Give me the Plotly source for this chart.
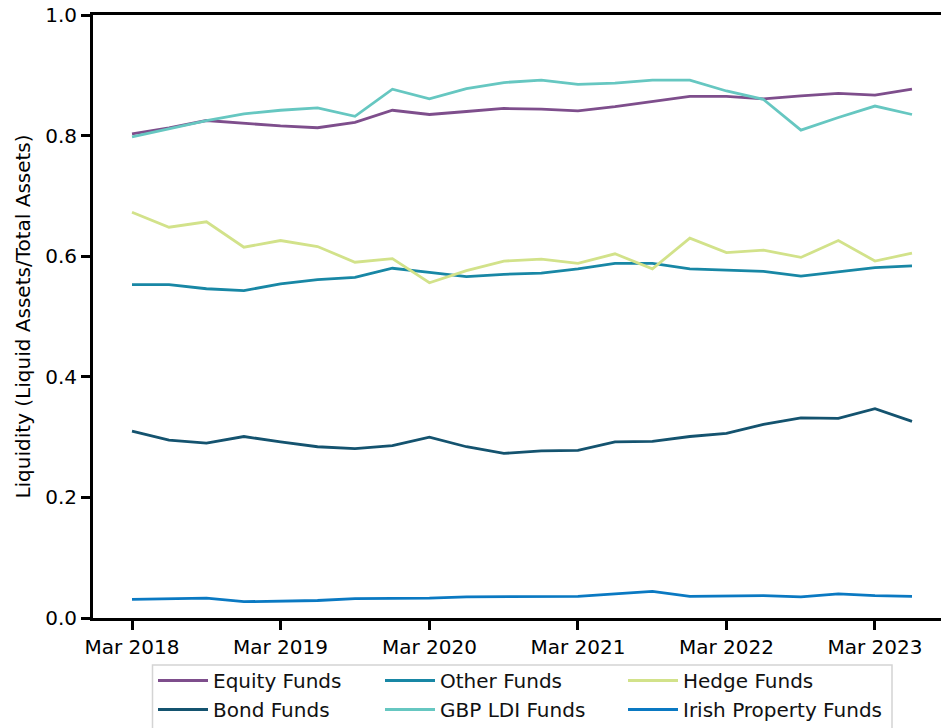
import pandas as pd
import plotly.graph_objects as go

# Quarter-end dates, Mar 2018 to Jun 2023
quarters = pd.date_range("2018-03-31", "2023-06-30", freq="QE")

equity_funds = [0.803, 0.813, 0.825, 0.820, 0.816, 0.813, 0.822, 0.842, 0.835, 0.840, 0.845,
                0.844, 0.841, 0.848, 0.857, 0.865, 0.865, 0.861, 0.866, 0.870, 0.867, 0.877]
other_funds = [0.553, 0.553, 0.546, 0.543, 0.554, 0.561, 0.565, 0.580, 0.573, 0.566, 0.570,
               0.572, 0.579, 0.588, 0.588, 0.579, 0.577, 0.575, 0.567, 0.574, 0.581, 0.584]
hedge_funds = [0.673, 0.648, 0.657, 0.615, 0.626, 0.616, 0.590, 0.596, 0.556, 0.576, 0.592,
               0.595, 0.588, 0.604, 0.579, 0.630, 0.606, 0.610, 0.598, 0.626, 0.592, 0.605]
bond_funds = [0.310, 0.295, 0.290, 0.301, 0.292, 0.284, 0.281, 0.286, 0.300, 0.284, 0.273,
              0.277, 0.278, 0.292, 0.293, 0.301, 0.306, 0.321, 0.332, 0.331, 0.347, 0.326]
gbp_ldi_funds = [0.798, 0.811, 0.825, 0.836, 0.842, 0.846, 0.832, 0.877, 0.861, 0.878, 0.888,
                 0.892, 0.885, 0.887, 0.892, 0.892, 0.874, 0.860, 0.809, 0.830, 0.849, 0.835]
irish_property_funds = [0.031, 0.032, 0.033, 0.027, 0.028, 0.029, 0.032, 0.032, 0.033, 0.035, 0.035,
                        0.036, 0.036, 0.040, 0.044, 0.036, 0.037, 0.037, 0.035, 0.040, 0.037, 0.036]

tick_dates = pd.to_datetime(["2018-03-31", "2019-03-31", "2020-03-31",
                             "2021-03-31", "2022-03-31", "2023-03-31"])
tick_labels = ["Mar 2018", "Mar 2019", "Mar 2020", "Mar 2021", "Mar 2022", "Mar 2023"]

# (name, values, colour, legend column)
series = [
    ("Equity Funds", equity_funds, "#7e4e8c", "legend"),
    ("Bond Funds", bond_funds, "#14536f", "legend"),
    ("Other Funds", other_funds, "#1887a5", "legend2"),
    ("GBP LDI Funds", gbp_ldi_funds, "#66c7c1", "legend2"),
    ("Hedge Funds", hedge_funds, "#d2e28a", "legend3"),
    ("Irish Property Funds", irish_property_funds, "#0a79c2", "legend3"),
]

FONT = "DejaVu Sans"
FS = 20
fig = go.Figure()
for name, vals, col, leg in series:
    fig.add_trace(go.Scatter(x=quarters, y=vals, mode="lines", name=name,
                             line=dict(color=col, width=2.8), legend=leg))

# x range: 5% padding on the left, axis continues past the right edge
span = quarters[-1] - quarters[0]
x_left = quarters[0] - 0.05 * span
x_right = x_left + span * (848 / 780)

W, H = 941, 728
L, R, T, B = 93, 0, 15, 110
fig.update_layout(
    width=W, height=H,
    margin=dict(l=L, r=R, t=T, b=B, autoexpand=False),
    paper_bgcolor="white", plot_bgcolor="white",
    font=dict(family=FONT, size=FS, color="black"),
    showlegend=True,
)

fig.update_xaxes(
    range=[x_left, x_right], tickvals=tick_dates, ticktext=tick_labels,
    showgrid=False, zeroline=False, showline=True, linecolor="black", linewidth=3,
    mirror=True, ticks="outside", ticklen=9, tickwidth=2.5, tickcolor="black",
    tickfont=dict(family=FONT, size=FS, color="black"), automargin=False,
)
fig.update_yaxes(
    range=[0, 1], tickvals=[0, 0.2, 0.4, 0.6, 0.8, 1.0], tickformat=".1f",
    showgrid=False, zeroline=False, showline=True, linecolor="black", linewidth=3,
    ticks="outside", ticklen=9, tickwidth=2.5, tickcolor="black",
    tickfont=dict(family=FONT, size=FS, color="black"), automargin=False,
    title=dict(text="Liquidity (Liquid Assets/Total Assets)",
               font=dict(family=FONT, size=FS, color="black"), standoff=10),
)

plot_w = W - L - R
plot_h = H - T - B


def px_x(px):
    return (px - L) / plot_w


def px_y(py):
    return (H - B - py) / plot_h


legend_common = dict(
    orientation="v", yanchor="top", xanchor="left",
    bgcolor="rgba(0,0,0,0)", borderwidth=0,
    font=dict(family=FONT, size=FS, color="#111111"),
    itemwidth=50, tracegroupgap=0,
)
fig.update_layout(
    legend=dict(x=px_x(153), y=px_y(661), **legend_common),
    legend2=dict(x=px_x(380), y=px_y(661), **legend_common),
    legend3=dict(x=px_x(623), y=px_y(661), **legend_common),
)

# Legend frame
fig.add_shape(type="rect", xref="paper", yref="paper",
              x0=px_x(152.5), x1=px_x(892), y0=px_y(665), y1=px_y(745),
              line=dict(color="#d4d4d4", width=1.5), fillcolor="rgba(0,0,0,0)",
              layer="above")

fig.write_html("out.html")
